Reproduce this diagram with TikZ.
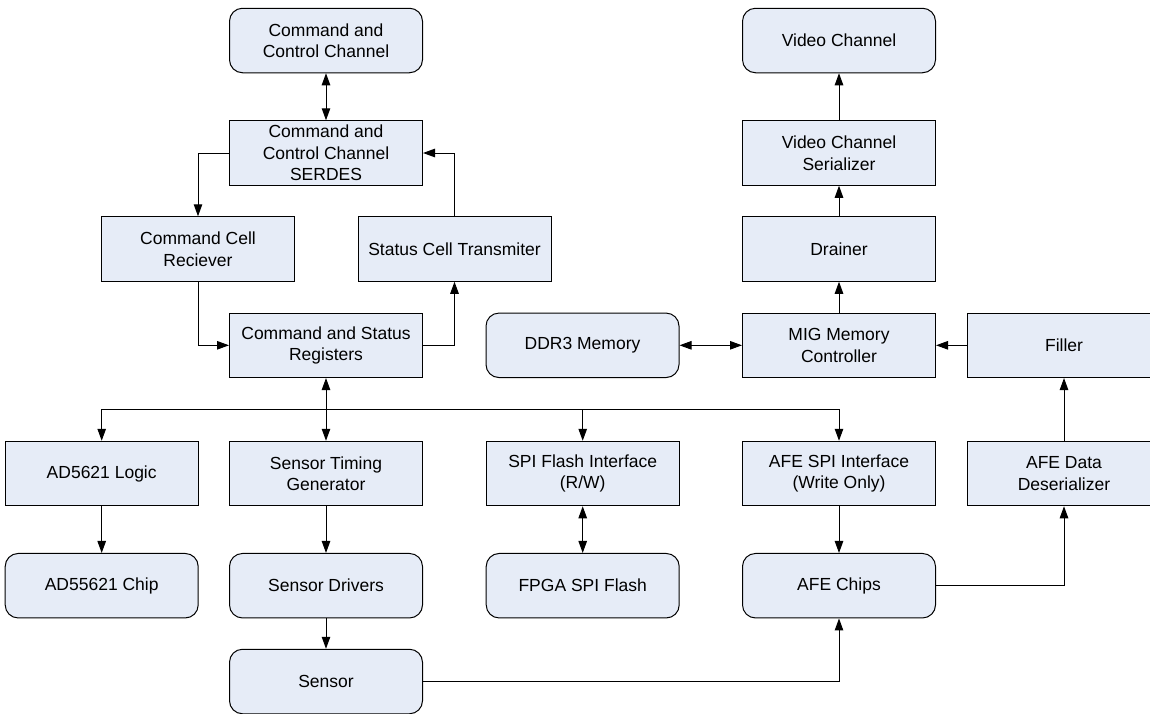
\documentclass[tikz,border=0pt]{standalone}
\usepackage{fontspec}
\setmainfont{Liberation Sans}
\usetikzlibrary{arrows.meta}
\definecolor{boxfill}{RGB}{230,236,247}

\begin{document}
\begin{tikzpicture}[x=1pt, y=-1pt, line width=1pt,
    >={Triangle[length=12pt,width=8.5pt]},
    block/.style={draw, fill=boxfill, minimum width=193pt, minimum height=64.5pt,
      inner sep=0pt, align=center, font=\fontsize{17.5}{21.5}\selectfont}]

      \path[use as bounding box, clip] (0,0) rectangle (1150,713);

      % square blocks
      \begin{scope}[every node/.style={block}]
        \node (2)  at (326,153)    {Command and\\Control Channel\\SERDES};
        \node (3)  at (198,249)    {Command Cell\\Reciever};
        \node (4)  at (454.5,249)  {Status Cell Transmiter};
        \node (5)  at (326,345.3)  {Command and Status\\Registers};
        \node (7)  at (839,345.3)  {MIG Memory\\Controller};
        \node (8)  at (1064,345.3) {Filler};
        \node (10) at (839,153)    {Video Channel\\Serializer};
        \node (11) at (839,249)    {Drainer};
        \node (12) at (101.7,473.5) {AD5621 Logic};
        \node (13) at (326,473.5)  {Sensor Timing\\Generator};
        \node (14) at (582.7,473.5) {SPI Flash Interface\\(R/W)};
        \node (15) at (839,473.5)  {AFE SPI Interface\\(Write Only)};
        \node (16) at (1064,473.5) {AFE Data\\Deserializer};
      \end{scope}

      % rounded blocks
      \begin{scope}[every node/.style={block, rounded corners=13pt}]
        \node (1)  at (326,40.5)   {Command and\\Control Channel};
        \node (6)  at (582.5,345.3) {DDR3 Memory};
        \node (9)  at (839,40.5)   {Video Channel};
        \node (17) at (101.7,585.7) {AD55621 Chip};
        \node (18) at (326,585.7)  {Sensor Drivers};
        \node (19) at (582.7,585.7) {FPGA SPI Flash};
        \node (20) at (839,585.7)  {AFE Chips};
        \node (21) at (326,681.5)  {Sensor};
      \end{scope}

      \coordinate (bus) at (326,409.3);

      \path (1)  edge[<->] (2);
      \path (6)  edge[<->] (7);
      \path (8)  edge[->] (7);
      \path (7)  edge[->] (11);
      \path (11) edge[->] (10);
      \path (10) edge[->] (9);
      \path (16) edge[->] (8);
      \path (5)  edge[<->] (13);
      \path (12) edge[->] (17);
      \path (13) edge[->] (18);
      \path (14) edge[<->] (19);
      \path (15) edge[->] (20);
      \path (18) edge[->] (21);

      \draw[->] (2.west) -| (3.north);
      \draw[->] (3.south) |- (5.west);
      \draw[->] (5.east) -| (4.south);
      \draw[->] (4.north) |- (2.east);
      \draw[->] (bus) -| (12.north);
      \draw[->] (bus) -| (14.north);
      \draw[->] (bus) -| (15.north);
      \draw[->] (21.east) -| (20.south);
      \draw[->] (20.east) -| (16.south);

    \end{tikzpicture}
\end{document}
